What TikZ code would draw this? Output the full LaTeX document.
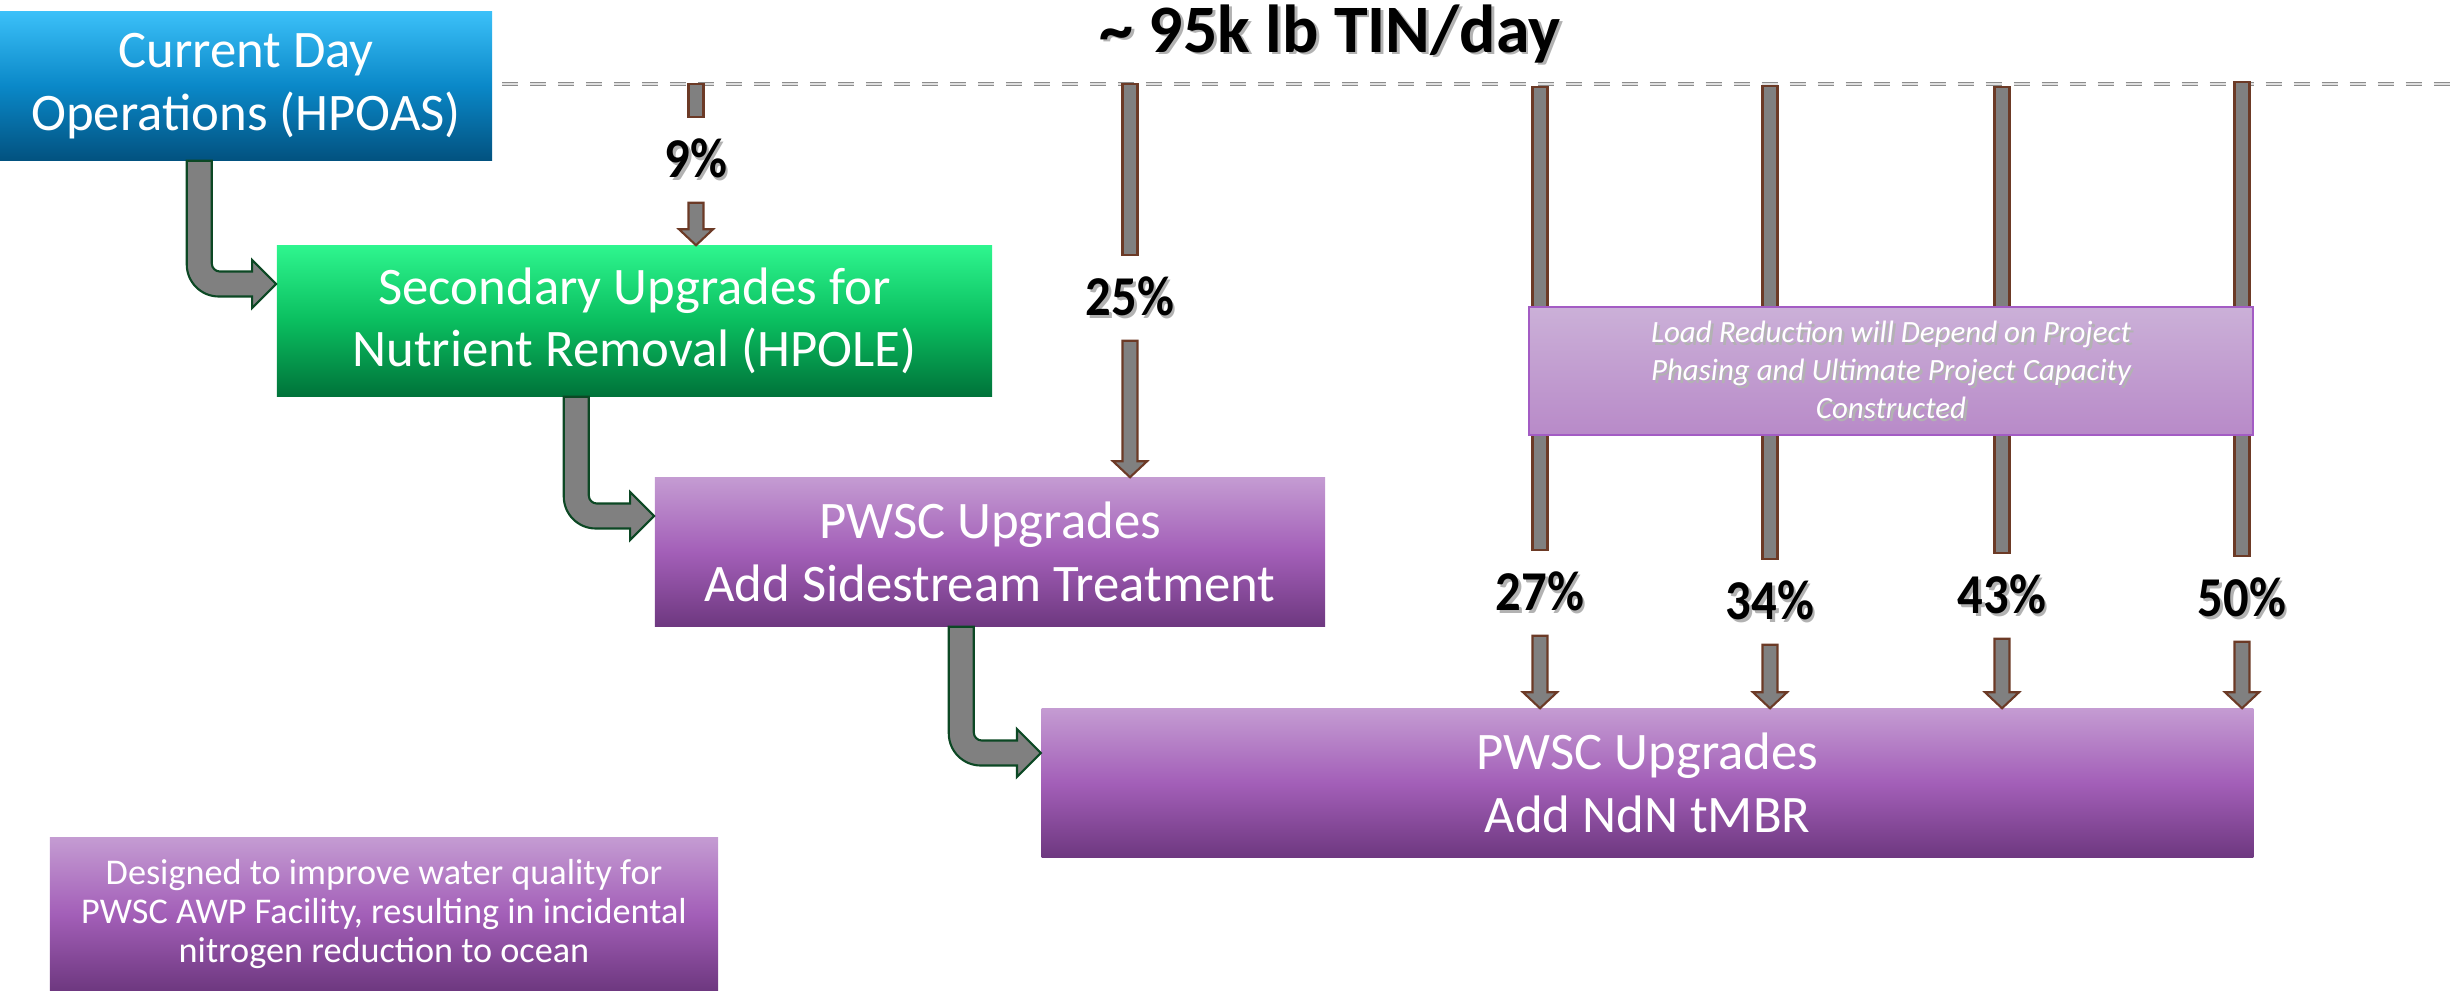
\documentclass[tikz,border=0pt]{standalone}
\usepackage{fontspec}
\setmainfont{Carlito}
\usepackage{xcolor}
\usepackage{graphicx}
\usepackage{tikz}
\usetikzlibrary{calc}

% Stage colours
\definecolor{hpoasTop}{RGB}{59,192,248}
\definecolor{hpoasMid}{RGB}{10,136,200}
\definecolor{hpoasBot}{RGB}{2,82,128}
\definecolor{hpoleTop}{RGB}{46,245,142}
\definecolor{hpoleMid}{RGB}{10,190,95}
\definecolor{hpoleBot}{RGB}{0,115,58}
\definecolor{pwscTop}{RGB}{196,155,210}
\definecolor{pwscMid}{RGB}{163,95,184}
\definecolor{pwscBot}{RGB}{110,56,128}
\definecolor{phaseTop}{RGB}{203,176,216}
\definecolor{phaseBot}{RGB}{184,138,200}
\definecolor{phaseEdge}{RGB}{163,92,196}
% Arrow colours
\definecolor{flowgray}{RGB}{128,128,128}
\definecolor{flowgreen}{RGB}{12,72,36}
\definecolor{loadbrown}{RGB}{108,58,38}

% Text with a soft drop shadow
\newcommand{\shadowed}[1]{\makebox[0pt][l]{\kern0.8pt\raisebox{-0.8pt}{\textcolor{black!30}{#1}}}#1}
% Narrow percentage labels
\newcommand{\pctlabel}[1]{\scalebox{0.9}[1]{\shadowed{#1}}}

% Plain shaft of a load arrow
\newcommand{\dropshaft}[2]{%
  \draw[loadarrow] let \p1=(#1), \p2=(#2) in
    (\x1-0.075cm,\y1) rectangle (\x1+0.075cm,\y2);}

% Shaft with head of a load arrow
\newcommand{\drophead}[2]{%
  \draw[loadarrow] let \p1=(#1), \p2=(#2) in
    (\x1-0.075cm,\y1) -- (\x1-0.075cm,\y2+0.16cm) -- (\x1-0.17cm,\y2+0.16cm)
    -- (\x1,\y2) -- (\x1+0.17cm,\y2+0.16cm) -- (\x1+0.075cm,\y2+0.16cm)
    -- (\x1+0.075cm,\y1) -- cycle;}

% Bent arrow from one stage down into the next
\newcommand{\bendflow}[2]{%
  \draw[stepflow] let \p1=(#1), \p2=(#2) in
    (\x1-0.125cm,\y1) -- (\x1-0.125cm,\y2+0.195cm)
    arc[start angle=180, end angle=270, radius=0.32cm]
    -- (\x2-0.24cm,\y2-0.125cm) -- (\x2-0.24cm,\y2-0.24cm) -- (\x2,\y2)
    -- (\x2-0.24cm,\y2+0.24cm) -- (\x2-0.24cm,\y2+0.125cm)
    -- (\x1+0.205cm,\y2+0.125cm)
    arc[start angle=270, end angle=180, radius=0.08cm]
    -- (\x1+0.125cm,\y1) -- cycle;}

\begin{document}
\begin{tikzpicture}[x=0.01cm, y=-0.01cm]
    % Block styles
    \tikzstyle{stage} = [rectangle, inner sep=0pt, text=white, align=center, font=\fontsize{15}{17.8}\selectfont]
    \tikzstyle{bluestage} = [stage, top color=hpoasTop, bottom color=hpoasBot, middle color=hpoasMid]
    \tikzstyle{greenstage} = [stage, top color=hpoleTop, bottom color=hpoleBot, middle color=hpoleMid]
    \tikzstyle{purplestage} = [stage, top color=pwscTop, bottom color=pwscBot, middle color=pwscMid]
    \tikzstyle{phasebox} = [rectangle, inner sep=0pt, draw=phaseEdge, line width=0.5pt, top color=phaseTop, bottom color=phaseBot, text=white, align=center, font=\fontsize{8.8}{10.8}\selectfont\itshape]
    \tikzstyle{notebox} = [purplestage, font=\fontsize{10.3}{11.1}\selectfont]
    \tikzstyle{pct} = [inner sep=0pt, minimum height=0.84cm, font=\fontsize{16}{19}\selectfont\bfseries]
    \tikzstyle{loadarrow} = [fill=flowgray, draw=loadbrown, line width=0.6pt, line join=miter]
    \tikzstyle{stepflow} = [fill=flowgray, draw=flowgreen, line width=0.6pt, line join=miter]
    \tikzstyle{tinline} = [draw=black!45, double=black!12, line width=0.45pt, double distance=0.4pt, dash pattern=on 4.55pt off 3.41pt]

    \useasboundingbox (0,0) rectangle (2458,990);

    % Treatment stages
    \node[bluestage, minimum width=4.92cm, minimum height=1.48cm] (hpoas) at (246,86) {Current Day\\Operations (HPOAS)};
    \node[greenstage, minimum width=7.15cm, minimum height=1.50cm] (hpole) at (634.5,321) {Secondary Upgrades for\\Nutrient Removal (HPOLE)};
    \node[purplestage, minimum width=6.70cm, minimum height=1.48cm] (sidestream) at (990,552) {PWSC Upgrades\\Add Sidestream Treatment};
    \node[purplestage, minimum width=12.11cm, minimum height=1.48cm] (tmbr) at (1647.5,783) {PWSC Upgrades\\Add NdN tMBR};

    % Baseline load
    \node[anchor=base, font=\fontsize{19.3}{22}\selectfont\bfseries] (tin) at (1330,52) {\shadowed{\textasciitilde{} 95k lb TIN/day}};
    \coordinate (tinL) at (502,84);
    \coordinate (tinR) at (2458,84);
    \draw[tinline] (tinL) -- (tinR);

    % Load reductions
    \coordinate (top9) at (696,84);
    \node[pct] (p9) at (696,160) {\pctlabel{9\%}};
    \dropshaft{top9}{p9.north}
    \drophead{p9.south}{p9.south |- hpole.north}

    \coordinate (top25) at (1130,84);
    \node[pct] (p25) at (1130,298) {\pctlabel{25\%}};
    \dropshaft{top25}{p25.north}
    \drophead{p25.south}{p25.south |- sidestream.north}

    \coordinate (top27) at (1540,87);
    \node[pct] (p27) at (1540,593) {\pctlabel{27\%}};
    \dropshaft{top27}{p27.north}
    \drophead{p27.south}{p27.south |- tmbr.north}

    \coordinate (top34) at (1770,86);
    \node[pct] (p34) at (1770,602) {\pctlabel{34\%}};
    \dropshaft{top34}{p34.north}
    \drophead{p34.south}{p34.south |- tmbr.north}

    \coordinate (top43) at (2002,87);
    \node[pct] (p43) at (2002,596) {\pctlabel{43\%}};
    \dropshaft{top43}{p43.north}
    \drophead{p43.south}{p43.south |- tmbr.north}

    \coordinate (top50) at (2242,82);
    \node[pct] (p50) at (2242,599) {\pctlabel{50\%}};
    \dropshaft{top50}{p50.north}
    \drophead{p50.south}{p50.south |- tmbr.north}

    % Phasing note over the tMBR arrows
    \node[phasebox, minimum width=7.24cm, minimum height=1.28cm] (phasing) at (1891,371)
        {\shadowed{Load Reduction will Depend on Project}\\\shadowed{Phasing and Ultimate Project Capacity}\\\shadowed{Constructed}};

    % Stage to stage
    \bendflow{[xshift=2cm]hpoas.south west}{[yshift=0.37cm]hpole.west}
    \bendflow{[xshift=3cm]hpole.south west}{[yshift=0.36cm]sidestream.west}
    \bendflow{[xshift=3.07cm]sidestream.south west}{[yshift=0.30cm]tmbr.west}

    % Side note
    \node[notebox, minimum width=6.68cm, minimum height=1.52cm] (note) at (384,914)
        {Designed to improve water quality for\\PWSC AWP Facility, resulting in incidental\\nitrogen reduction to ocean};
\end{tikzpicture}
\end{document}
